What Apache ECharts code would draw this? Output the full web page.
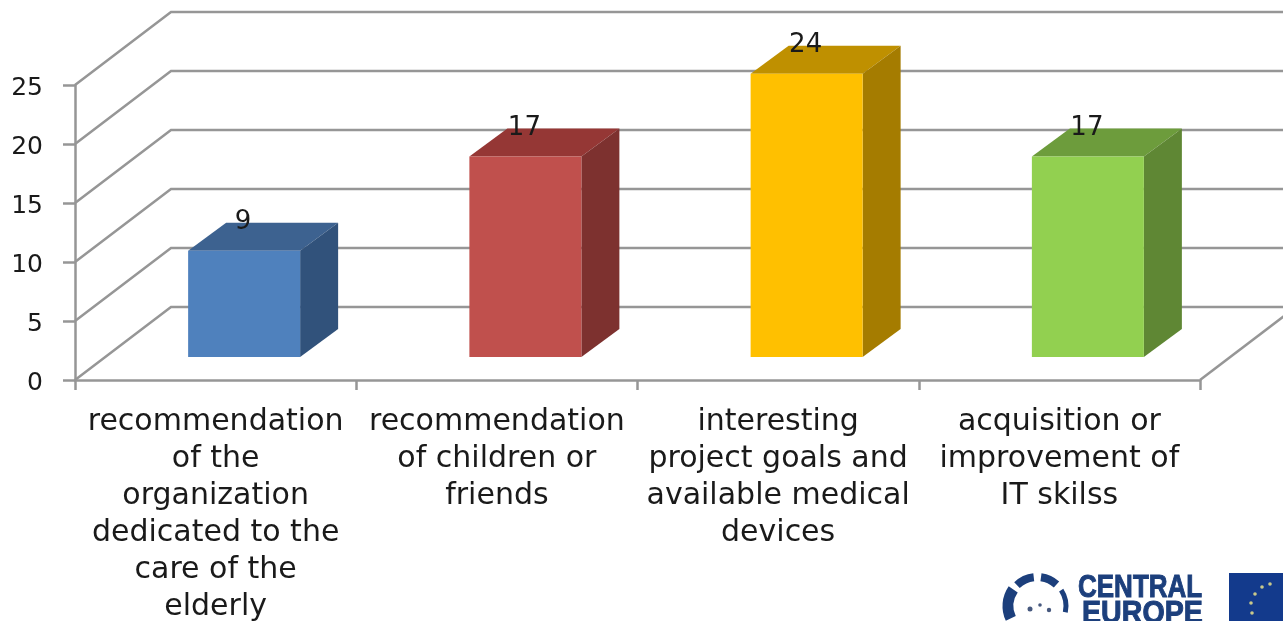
<!DOCTYPE html>
<html>
<head>
<meta charset="utf-8">
<style>
  html, body { margin: 0; padding: 0; background: #fff; overflow: hidden; }
  #chart { width: 1283px; height: 621px; }
</style>
<script src="https://cdn.jsdelivr.net/npm/echarts@6/dist/echarts.min.js"></script>
</head>
<body>
<div id="chart"></div>
<script>
const categories = [
  'recommendation\nof the\norganization\ndedicated to the\ncare of the\nelderly',
  'recommendation\nof children or\nfriends',
  'interesting\nproject goals and\navailable medical\ndevices',
  'acquisition or\nimprovement of\nIT skilss'
];
const values = [9, 17, 24, 17];
const wallLevels = [0, 5, 10, 15, 20, 25];

// front, top and side faces of each bar
const frontColors = ['#4f81bd', '#c0504d', '#ffc000', '#92d050'];
const topColors = ['#3d6290', '#953735', '#bf9000', '#6d9c3c'];
const sideColors = ['#31527b', '#7d312f', '#a57c00', '#5f8734'];

const FONT = '"DejaVu Sans", Verdana, sans-serif';
const LINE = '#969696';
// depth of the chart box and of a bar, in pixels
const WALL_DX = 96, WALL_DY = -73;
const BAR_DX = 38, BAR_DY = -28;
const BAR_WIDTH = 112, BAR_SHIFT_X = 28.5, BAR_SHIFT_Y = -23;

function renderWall(params, api) {
  const level = api.value(1);
  const band = api.size([1, 0])[0];
  const p = api.coord([0, level]);
  const left = p[0] - band / 2;
  const right = left + band * categories.length;
  const y = p[1];
  const style = {stroke: LINE, lineWidth: 2.5, fill: null};
  const children = [{
    type: 'polyline',
    shape: {points: [[left, y], [left + WALL_DX, y + WALL_DY], [right + WALL_DX, y + WALL_DY]]},
    style: style
  }];
  if (level === 0) {
    children.push({
      type: 'line',
      shape: {x1: right, y1: y, x2: right + WALL_DX, y2: y + WALL_DY},
      style: style
    });
  }
  return {type: 'group', children: children};
}

function renderBar(params, api) {
  const i = params.dataIndex;
  const top = api.coord([i, api.value(1)]);
  const base = api.coord([i, 0]);
  const x0 = top[0] + BAR_SHIFT_X - BAR_WIDTH / 2;
  const x1 = x0 + BAR_WIDTH;
  const yTop = top[1] + BAR_SHIFT_Y;
  const yBase = base[1] + BAR_SHIFT_Y;
  return {
    type: 'group',
    children: [{
      type: 'polygon',
      shape: {points: [[x0, yTop], [x1, yTop], [x1 + BAR_DX, yTop + BAR_DY], [x0 + BAR_DX, yTop + BAR_DY]]},
      style: {fill: topColors[i]}
    }, {
      type: 'polygon',
      shape: {points: [[x1, yTop], [x1 + BAR_DX, yTop + BAR_DY], [x1 + BAR_DX, yBase + BAR_DY], [x1, yBase]]},
      style: {fill: sideColors[i]}
    }, {
      type: 'rect',
      shape: {x: x0, y: yTop, width: BAR_WIDTH, height: yBase - yTop},
      style: {fill: frontColors[i]}
    }, {
      type: 'text',
      x: (x0 + x1) / 2 - 1,
      y: yTop - 28.5,
      style: {
        text: String(api.value(1)),
        font: '26px ' + FONT,
        fill: '#1a1a1a',
        align: 'center',
        verticalAlign: 'middle'
      }
    }]
  };
}

// CENTRAL EUROPE logo in the corner, it is cut off by the page edge in the original
function logoGraphic() {
  const blue = '#1c3f7c';
  const arc = (r0, r1, w) => ({
    type: 'arc',
    shape: {cx: 1037, cy: 606, r: 29, startAngle: r0, endAngle: r1},
    style: {stroke: blue, lineWidth: w, fill: null}
  });
  const dot = (x, y, r, c) => ({
    type: 'circle',
    shape: {cx: x, cy: y, r: r},
    style: {fill: c}
  });
  const stars = [];
  [[1262, 587], [1270, 584], [1255, 594], [1251, 603], [1252, 613]].forEach((s) => {
    stars.push(dot(s[0], s[1], 1.8, '#c9c98a'));
  });
  return [
    arc(2.7, 3.75, 11), arc(3.95, 4.6, 8), arc(4.85, 5.45, 8), arc(5.7, 6.5, 5),
    dot(1030, 609, 2.5, '#46587e'), dot(1040, 605, 1.8, '#46587e'), dot(1049, 610, 2.2, '#46587e'),
    {
      type: 'text', x: 1078, y: 573, scaleY: 1.18,
      style: {text: 'CENTRAL', font: 'bold 26px "Liberation Sans", Arial', fill: blue, stroke: blue, lineWidth: 0.8}
    },
    {
      type: 'text', x: 1082, y: 599, scaleX: 1.1, scaleY: 1.18,
      style: {text: 'EUROPE', font: 'bold 26px "Liberation Sans", Arial', fill: blue, stroke: blue, lineWidth: 0.8}
    },
    {type: 'rect', shape: {x: 1229, y: 573, width: 54, height: 48}, style: {fill: '#133a8c'}}
  ].concat(stars);
}

const chart = echarts.init(document.getElementById('chart'));
chart.setOption({
  animation: false,
  backgroundColor: '#fff',
  // labels run to the page edge, don't let the grid shrink for them
  grid: {left: 75, right: 83, top: 85, bottom: 241, outerBoundsMode: 'none'},
  xAxis: {
    type: 'category',
    data: categories,
    axisLine: {lineStyle: {color: LINE, width: 2.5}},
    axisTick: {show: true, alignWithLabel: false, length: 10, lineStyle: {color: LINE, width: 2.5}},
    axisLabel: {
      interval: 0,
      margin: 24,
      fontFamily: FONT,
      fontSize: 30,
      lineHeight: 37,
      color: '#1a1a1a'
    }
  },
  yAxis: {
    type: 'value',
    min: 0,
    max: 25,
    interval: 5,
    splitLine: {show: false},
    axisLine: {show: true, lineStyle: {color: LINE, width: 2.5}},
    axisTick: {show: true, length: 12, lineStyle: {color: LINE, width: 2.5}},
    // numbers sit a little below their ticks
    axisLabel: {margin: 32, fontFamily: FONT, fontSize: 25, color: '#1a1a1a', verticalAlign: 'top', lineHeight: 6}
  },
  series: [{
    type: 'custom',
    name: 'walls',
    renderItem: renderWall,
    encode: {x: 0, y: 1},
    data: wallLevels.map((v) => [0, v]),
    silent: true,
    z: 1
  }, {
    type: 'custom',
    name: 'bars',
    renderItem: renderBar,
    encode: {x: 0, y: 1},
    data: values.map((v, i) => [i, v]),
    z: 2
  }],
  graphic: logoGraphic()
});
</script>
</body>
</html>
